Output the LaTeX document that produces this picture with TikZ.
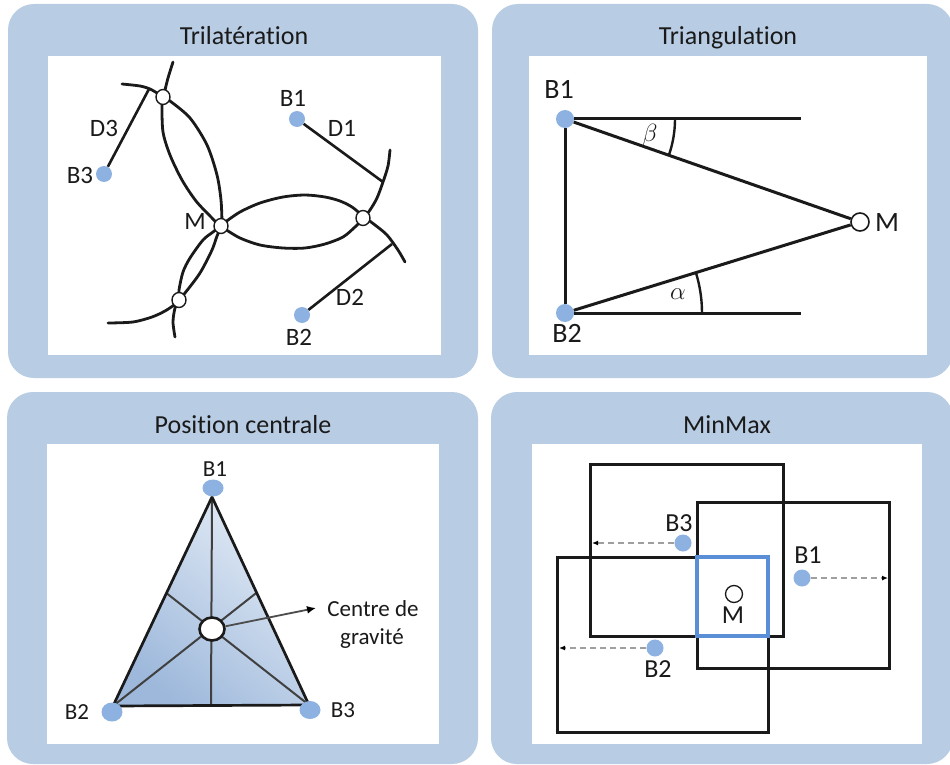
\documentclass[tikz,border=0pt]{standalone}
\usepackage{fontspec}
\setmainfont[Ligatures=NoCommon]{Carlito}
\usetikzlibrary{arrows.meta,calc,shapes.geometric}
\definecolor{panelbg}{HTML}{B8CCE4}
\definecolor{dotblue}{HTML}{8DB1E0}
\definecolor{boxblue}{HTML}{5A8ED6}
\definecolor{triTop}{HTML}{E4ECF6}
\definecolor{triBot}{HTML}{9DB8DB}
\definecolor{ink}{HTML}{1A1A1A}
\begin{document}
\begin{tikzpicture}[x=1pt,y=-1pt,
  panel/.style={fill=panelbg, rounded corners=26pt},
  canvas/.style={fill=white},
  ttl/.style={font=\fontsize{26}{30}\selectfont, text=ink, inner sep=0pt, anchor=base},
  lbl/.style={font=\fontsize{25}{29}\selectfont, text=ink, inner sep=0pt, anchor=base},
  lblb/.style={font=\fontsize{28}{32}\selectfont, text=ink, inner sep=0pt, anchor=base},
  lblc/.style={font=\fontsize{23}{27}\selectfont, text=ink, inner sep=0pt, anchor=base},
  lbld/.style={font=\fontsize{26}{30}\selectfont, text=ink, inner sep=0pt, anchor=base},
  bdot/.style={ellipse, fill=dotblue, minimum width=16pt, minimum height=16pt, inner sep=0pt},
  wdot/.style={ellipse, draw=ink, fill=white, minimum width=14pt, minimum height=15pt, inner sep=0pt, line width=1.4pt},
  curve/.style={draw=ink, line width=2.8pt, line cap=round},
  ln/.style={draw=ink, line width=3pt},
  median/.style={draw=black!75, line width=2pt},
  dasharrow/.style={draw=gray!75, line width=1.6pt, dash pattern=on 6pt off 4pt, -{Latex[length=6pt,width=5pt,color=black]}},
]
\useasboundingbox (0,0) rectangle (950,765);
\clip (0,0) rectangle (950,765);
\fill[white] (0,0) rectangle (950,765);

% panels
\path[panel] (8,4) rectangle (478,378);
\path[panel] (492,4) rectangle (953,378);
\path[panel] (7,392) rectangle (478,764);
\path[panel] (491,392) rectangle (953,764);

\node[ttl] (t1) at (244,45) {Trilatération};
\node[ttl] (t2) at (728,45) {Triangulation};
\node[ttl] (t3) at (243,433) {Position centrale};
\node[ttl] (t4) at (727,433) {MinMax};

% ---------- Trilateration ----------
\path[canvas] (48,56) rectangle (441,355);
\draw[curve] plot[smooth] coordinates {(122,84) (140,86) (150,89) (157,93) (163,97) (170,101) (190,118) (207,145) (217,175) (221,200) (222,222)};
\draw[curve] plot[smooth] coordinates {(173,62) (168,78) (165,90) (163,97) (162,105) (163,132) (170,155) (182,180) (196,201) (211,217) (219,225)};
\draw[curve] plot[smooth] coordinates {(224,223) (240,212) (260,203) (283,197) (305,195) (325,197) (340,201) (352,207) (363,216) (375,225) (387,235) (398,250) (405,262)};
\draw[curve] plot[smooth] coordinates {(225,229) (240,238) (260,245) (283,248) (305,248) (325,244) (343,237) (355,227) (363,219) (370,210) (377,198) (383,182) (388,166) (390,150)};
\draw[curve] plot[smooth] coordinates {(108,323) (133,322) (152,317) (165,311) (174,305) (179,300) (185,293) (200,273) (212,250) (217,236) (221,228)};
\draw[curve] plot[smooth] coordinates {(175,337) (173,322) (175,308) (179,300) (179,290) (183,272) (190,258) (203,240) (213,232) (219,227)};

\node[wdot] (p1M) at (221,226) {};
\node[wdot] (p1P3) at (163,97) {};
\node[wdot] (p1P1) at (363,218) {};
\node[wdot] (p1P2) at (179,300) {};
\node[bdot] (p1B1) at (297,119) {};
\node[bdot] (p1B2) at (302,315) {};
\node[bdot] (p1B3) at (104,174) {};
\coordinate (p1E1) at (383,182);
\coordinate (p1E2) at (392,244);
\coordinate (p1E3) at (149,89);
\draw[ln, line width=2.6pt] (p1B1) -- (p1E1);
\draw[ln, line width=2.6pt] (p1B2) -- (p1E2);
\draw[ln, line width=2.6pt] (p1B3) -- (p1E3);

\node[lbl] (p1lB1) at (293,107) {B1};
\node[lbl] (p1lD1) at (342,137) {D1};
\node[lbl] (p1lD3) at (104,137) {D3};
\node[lbl] (p1lB3) at (80,183) {B3};
\node[lbl] (p1lM) at (195,229) {M};
\node[lbl] (p1lD2) at (350,305) {D2};
\node[lbl] (p1lB2) at (299,345) {B2};

% ---------- Triangulation ----------
\path[canvas] (529,56) rectangle (927,355);
\coordinate (p2T) at (801,119);
\coordinate (p2Bt) at (801,313);
\node[bdot, minimum width=18pt, minimum height=18pt] (p2B1) at (565,119) {};
\node[bdot, minimum width=18pt, minimum height=18pt] (p2B2) at (565,313) {};
\node[wdot, minimum width=18pt, minimum height=18pt, line width=1.6pt] (p2M) at (860,222) {};
\draw[ln] (p2B1) -- (p2T);
\draw[ln] (p2B1) -- (p2M);
\draw[ln] (p2B1) -- (p2B2);
\draw[ln] (p2B2) -- (p2M);
\draw[ln] (p2B2) -- (p2Bt);
\draw[ln, line width=2.4pt] (675,119) arc[start angle=0, end angle=19.25, radius=110];
\draw[ln, line width=2.4pt] (702,313) arc[start angle=0, end angle=-17.14, radius=137];
\node[font=\fontsize{26}{30}\selectfont, text=ink, inner sep=0pt] (p2beta) at (650,135) {$\beta$};
\node[font=\fontsize{26}{30}\selectfont, text=ink, inner sep=0pt] (p2alpha) at (678,294) {$\alpha$};
\node[lblb] (p2lB1) at (559,99) {B1};
\node[lblb] (p2lB2) at (567,342) {B2};
\node[lblb] (p2lM) at (887,231) {M};

% ---------- Position centrale ----------
\path[canvas] (47,444) rectangle (439,744);
\coordinate (p3A) at (212,497);
\coordinate (p3L) at (113,706);
\coordinate (p3R) at (309,705);
\shade[top color=triTop, bottom color=triBot, shading angle=-40] (p3A) -- (p3L) -- (p3R) -- cycle;
\coordinate (p3mR) at ($(p3A)!0.46!(p3R)$);
\coordinate (p3mL) at ($(p3A)!0.46!(p3L)$);
\coordinate (p3mB) at ($(p3L)!0.5!(p3R)$);
\draw[median] (p3A) -- (p3mB);
\draw[median] (p3L) -- (p3mR);
\draw[median] (p3R) -- (p3mL);
\draw[ln, line width=2.7pt, line join=round] (p3A) -- (p3L) -- (p3R) -- cycle;
\node[bdot, minimum width=21pt, minimum height=17pt] (p3B1) at (213,488) {};
\node[bdot, minimum width=21pt, minimum height=19pt] (p3B2) at (112,712) {};
\node[bdot, minimum width=21pt, minimum height=18pt] (p3B3) at (310,710) {};
\node[wdot, minimum width=25pt, minimum height=23pt, line width=2.6pt] (p3G) at (212,629) {};
\coordinate (p3tip) at (316,608);
\draw[draw=black!70, line width=1.8pt, -{Latex[length=9pt,width=8pt,color=black]}] (p3G) -- (p3tip);
\node[lblc] (p3c1) at (373,616) {Centre de};
\node[lblc] (p3c2) at (372,644) {gravité};
\node[lblc] (p3lB1) at (215,476) {B1};
\node[lblc] (p3lB2) at (77,719) {B2};
\node[lblc] (p3lB3) at (343,717) {B3};

% ---------- MinMax ----------
\path[canvas] (532,444) rectangle (922,744);
\draw[ln] (590,464) rectangle (783,636);
\draw[ln] (697,502) rectangle (889,668);
\draw[ln] (557,557) rectangle (768,732);
\draw[draw=boxblue, line width=4pt] (697,557) rectangle (768,636);
\node[wdot, minimum width=17pt, minimum height=17pt, line width=1.3pt] (p4M) at (734,594) {};
\node[bdot, minimum width=17pt, minimum height=17pt] (p4B3) at (683,543) {};
\node[bdot, minimum width=17pt, minimum height=17pt] (p4B1) at (802,578) {};
\node[bdot, minimum width=17pt, minimum height=17pt] (p4B2) at (655,648) {};
\coordinate (p4e3) at (592,543);
\coordinate (p4e1) at (888,578);
\coordinate (p4e2) at (559,648);
\draw[dasharrow] (p4B3) -- (p4e3);
\draw[dasharrow] (p4B1) -- (p4e1);
\draw[dasharrow] (p4B2) -- (p4e2);
\node[lbld] (p4lB3) at (679,531) {B3};
\node[lbld] (p4lB1) at (808,563) {B1};
\node[lbld] (p4lM) at (733,623) {M};
\node[lbld] (p4lB2) at (658,677) {B2};
\end{tikzpicture}
\end{document}
